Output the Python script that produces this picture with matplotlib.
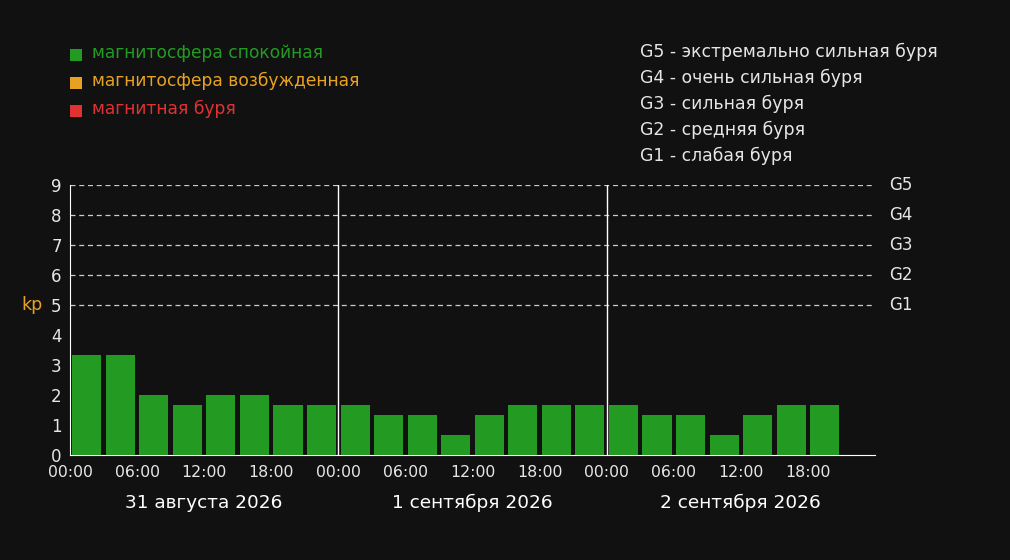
import matplotlib
matplotlib.use("Agg")
import matplotlib.pyplot as plt
from matplotlib.patches import Rectangle
import matplotlib.transforms as mtransforms

# Data
day_labels = ["31 августа 2026", "1 сентября 2026", "2 сентября 2026"]
hour_ticks = ["00:00", "06:00", "12:00", "18:00"]
kp_values = [3.33, 3.33, 2.0, 1.67, 2.0, 2.0, 1.67, 1.67,
             1.67, 1.33, 1.33, 0.67, 1.33, 1.67, 1.67, 1.67,
             1.67, 1.33, 1.33, 0.67, 1.33, 1.67, 1.67]
g_labels = ["G1", "G2", "G3", "G4", "G5"]
g_levels = [5, 6, 7, 8, 9]
legend_left = ["магнитосфера спокойная", "магнитосфера возбужденная", "магнитная буря"]
legend_colors = ["#239b23", "#e8a223", "#e03232"]
legend_right = ["G5 - экстремально сильная буря", "G4 - очень сильная буря",
                "G3 - сильная буря", "G2 - средняя буря", "G1 - слабая буря"]

plt.rcParams['font.family'] = ['DejaVu Sans']
BG = "#111111"
FG = "#e6e6e6"

fig = plt.figure(figsize=(10.1, 5.6), dpi=100, facecolor=BG)
ax = fig.add_axes([70/1010, 105/560, 805/1010, 270/560], facecolor=BG)

xs = [1.5 + 3 * i for i in range(len(kp_values))]
ax.bar(xs, kp_values, width=2.6, color=legend_colors[0], zorder=3)

ax.set_xlim(0, 72)
ax.set_ylim(0, 9)
for lvl in range(5, 10):
    ax.axhline(lvl, color="#cccccc", lw=0.9, ls=(0, (4, 3)), zorder=1)
for d in (24, 48):
    ax.axvline(d, color="#ffffff", lw=1, zorder=2)

for s in ("top", "right"):
    ax.spines[s].set_visible(False)
ax.spines["left"].set_color("#ffffff")
ax.spines["bottom"].set_color("#ffffff")

ax.set_yticks(range(10))
ax.set_yticklabels([str(i) for i in range(10)], color=FG, fontsize=12)
xt = [d * 24 + h * 6 for d in range(3) for h in range(4)]
ax.set_xticks(xt)
ax.set_xticklabels(hour_ticks * 3, color=FG, fontsize=11.3)
ax.tick_params(axis="y", length=0, pad=6)
ax.tick_params(axis="x", length=0, pad=7)

for i, lab in enumerate(day_labels):
    ax.text(12 + 24 * i, -1.6, lab, ha="center", va="center", color="#ffffff",
            fontsize=13.3, transform=ax.transData)

# G labels on right
trans = mtransforms.blended_transform_factory(fig.transFigure, ax.transData)
for lab, lvl in zip(g_labels, g_levels):
    ax.text(889/1010, lvl, lab, ha="left", va="center", color=FG, fontsize=12,
            transform=trans)
ax.text(32/1010, 5, "kp", ha="center", va="center", color="#e8a223", fontsize=12.5,
        transform=trans)

# Left legend
for i, (lab, c) in enumerate(zip(legend_left, legend_colors)):
    yc = 55 + 28 * i
    fig.patches.append(Rectangle((70/1010, 1 - (yc + 6)/560), 12/1010, 12/560,
                                 transform=fig.transFigure, facecolor=c, edgecolor="none"))
    fig.text(92/1010, 1 - (yc - 2)/560, lab, ha="left", va="center", color=c, fontsize=12.3)

# Right legend
for i, lab in enumerate(legend_right):
    yc = 52 + 26 * i
    fig.text(640/1010, 1 - yc/560, lab, ha="left", va="center", color=FG, fontsize=12.4)

fig.savefig("out.png", dpi=100, facecolor=BG)
